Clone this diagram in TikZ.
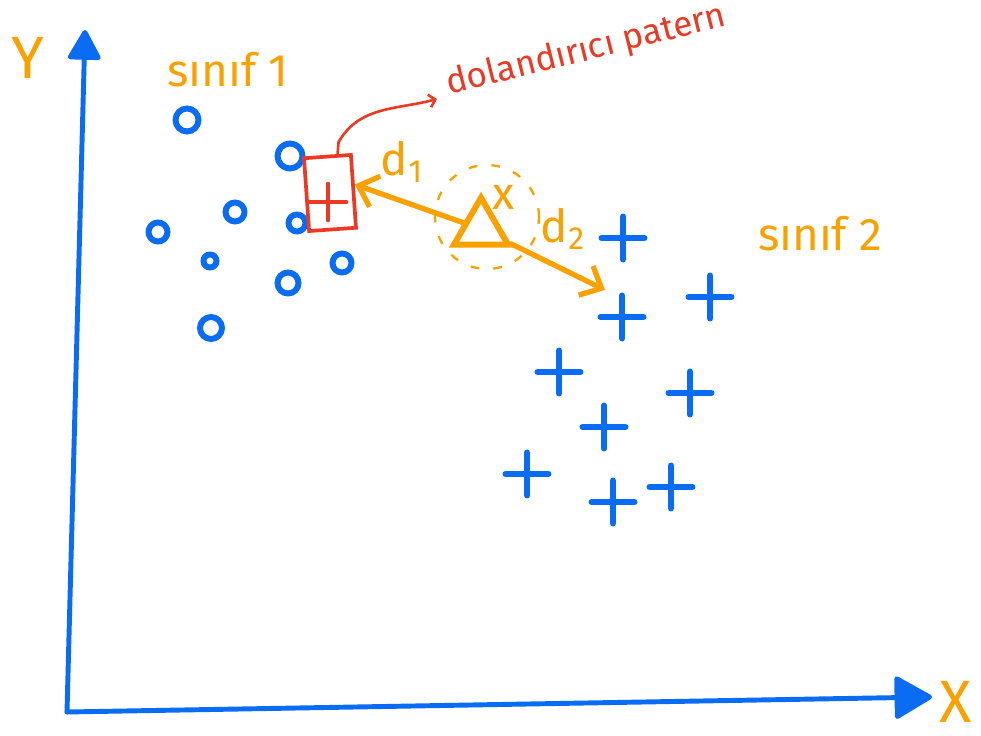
\documentclass[tikz,border=0pt]{standalone}
\usepackage{fontspec}
\setmainfont{Fira Sans}
\usetikzlibrary{arrows.meta,shapes.geometric,shapes.misc}
\definecolor{inkblue}{HTML}{0A6CF2}
\definecolor{hilite}{HTML}{F8A100}
\definecolor{fraudred}{HTML}{EA3A26}
\tikzset{
  % ---- axes -------------------------------------------------------
  axis/.style      = {draw=inkblue, line width=2.8pt, line cap=round,
                      -{Triangle[length=6.5mm,width=7mm,round]}},
  axlbl/.style     = {text=hilite, font=\fontsize{34}{34}\selectfont,
                      inner sep=0pt},
  % ---- the two classes ---------------------------------------------
  clsA/.style      = {circle, draw=inkblue, line width=3.4pt,
                      inner sep=0pt, minimum size=4.4mm},
  clsB/.style      = {cross out, draw=inkblue, line width=3.2pt,
                      line cap=round, rotate=45, inner sep=0pt,
                      minimum size=5mm},
  clslbl/.style    = {text=hilite, font=\fontsize{26}{26}\selectfont,
                      inner sep=0pt},
  % ---- outlier and query -------------------------------------------
  fraudbox/.style  = {draw=fraudred, line width=2.1pt, inner sep=0pt,
                      minimum width=9.4mm, minimum height=14.6mm,
                      rotate=4},
  note/.style      = {draw=fraudred, line width=1.5pt, line cap=round,
                      -{Straight Barb[length=1.2mm,width=2.6mm]}},
  notelbl/.style   = {text=fraudred, font=\fontsize{20}{20}\selectfont,
                      inner sep=0pt},
  query/.style     = {regular polygon, regular polygon sides=3,
                      draw=hilite, line width=3.4pt, inner sep=0pt,
                      minimum size=12.5mm},
  zone/.style      = {circle, draw=hilite, line width=1.3pt,
                      dash pattern=on 5pt off 8pt, inner sep=0pt,
                      minimum size=20.8mm},
  dist/.style      = {draw=hilite, line width=3pt, line cap=round,
                      -{Straight Barb[length=3.5mm,width=6.5mm]}},
  dlbl/.style      = {text=hilite, font=\fontsize{26}{26}\selectfont,
                      inner sep=0pt},
}
\begin{document}
\begin{tikzpicture}[x=0.02cm, y=-0.02cm]
  \useasboundingbox (0,0) rectangle (981,736);
  % axes
  \coordinate (O) at (67,712);
  \coordinate (ytop) at (85,30);
  \coordinate (xtip) at (932,697);
  \draw[axis] (O) -- (ytop);
  \draw[axis, -{Triangle[length=8mm,width=9mm,round]}] (O) -- (xtip);
  \node[axlbl] (ylbl) at (28,58) {Y};
  \node[axlbl] (xlbl) at (956,702) {X};
  % class 1
  \node[clsA, minimum size=4.6mm] (a1) at (187,120) {};
  \node[clsA, minimum size=5mm] (a2) at (290,156) {};
  \node[clsA, minimum size=3.8mm] (a3) at (235,212) {};
  \node[clsA, minimum size=3.8mm] (a4) at (158,232) {};
  \node[clsA, minimum size=3.4mm] (a5) at (297,223) {};
  \node[clsA, minimum size=2.6mm] (a6) at (210,261) {};
  \node[clsA, minimum size=4.2mm] (a7) at (288,283) {};
  \node[clsA, minimum size=3.8mm] (a8) at (342,263) {};
  \node[clsA, minimum size=4.4mm] (a9) at (211,328) {};
  \node[clslbl] (cls1lbl) at (228,70) {sınıf 1};
  % class 2
  \node[clsB] (b1) at (623,238) {};
  \node[clsB] (b2) at (710,297) {};
  \node[clsB] (b3) at (622,317) {};
  \node[clsB] (b4) at (559,372) {};
  \node[clsB] (b5) at (690,393) {};
  \node[clsB] (b6) at (604,427) {};
  \node[clsB] (b7) at (527,474) {};
  \node[clsB] (b8) at (613,502) {};
  \node[clsB] (b9) at (671,487) {};
  \node[clslbl] (cls2lbl) at (820,234) {sınıf 2};
  % the outlier in class 1
  \node[fraudbox] (fraud) at (330,193) {};
  \node[clsB, draw=fraudred, line width=2.6pt, minimum size=4.2mm] (fraudpt) at (328,202) {};
  \coordinate (calltip) at (437,99);
  \draw[note] (fraud.75) -- ++(1,-12) to[out=60,in=195] (calltip);
  \node[notelbl, anchor=base west, rotate=14] (fraudlbl) at (449,95) {dolandırıcı patern};
  % query point
  \node[zone] (xzone) at (487,217) {};
  \node[query] (xq) at (481,229) {};
  \node[dlbl] (xqlbl) at (504,197) {x};
  \coordinate (d2end) at (605,290);
  \draw[dist] (xq) -- (fraud.15);
  \draw[dist] (xq) -- (d2end);
  \node[dlbl] (d1lbl) at (402,162) {d\textsubscript{1}};
  \node[dlbl] (d2lbl) at (563,229) {d\textsubscript{2}};
\end{tikzpicture}
\end{document}
